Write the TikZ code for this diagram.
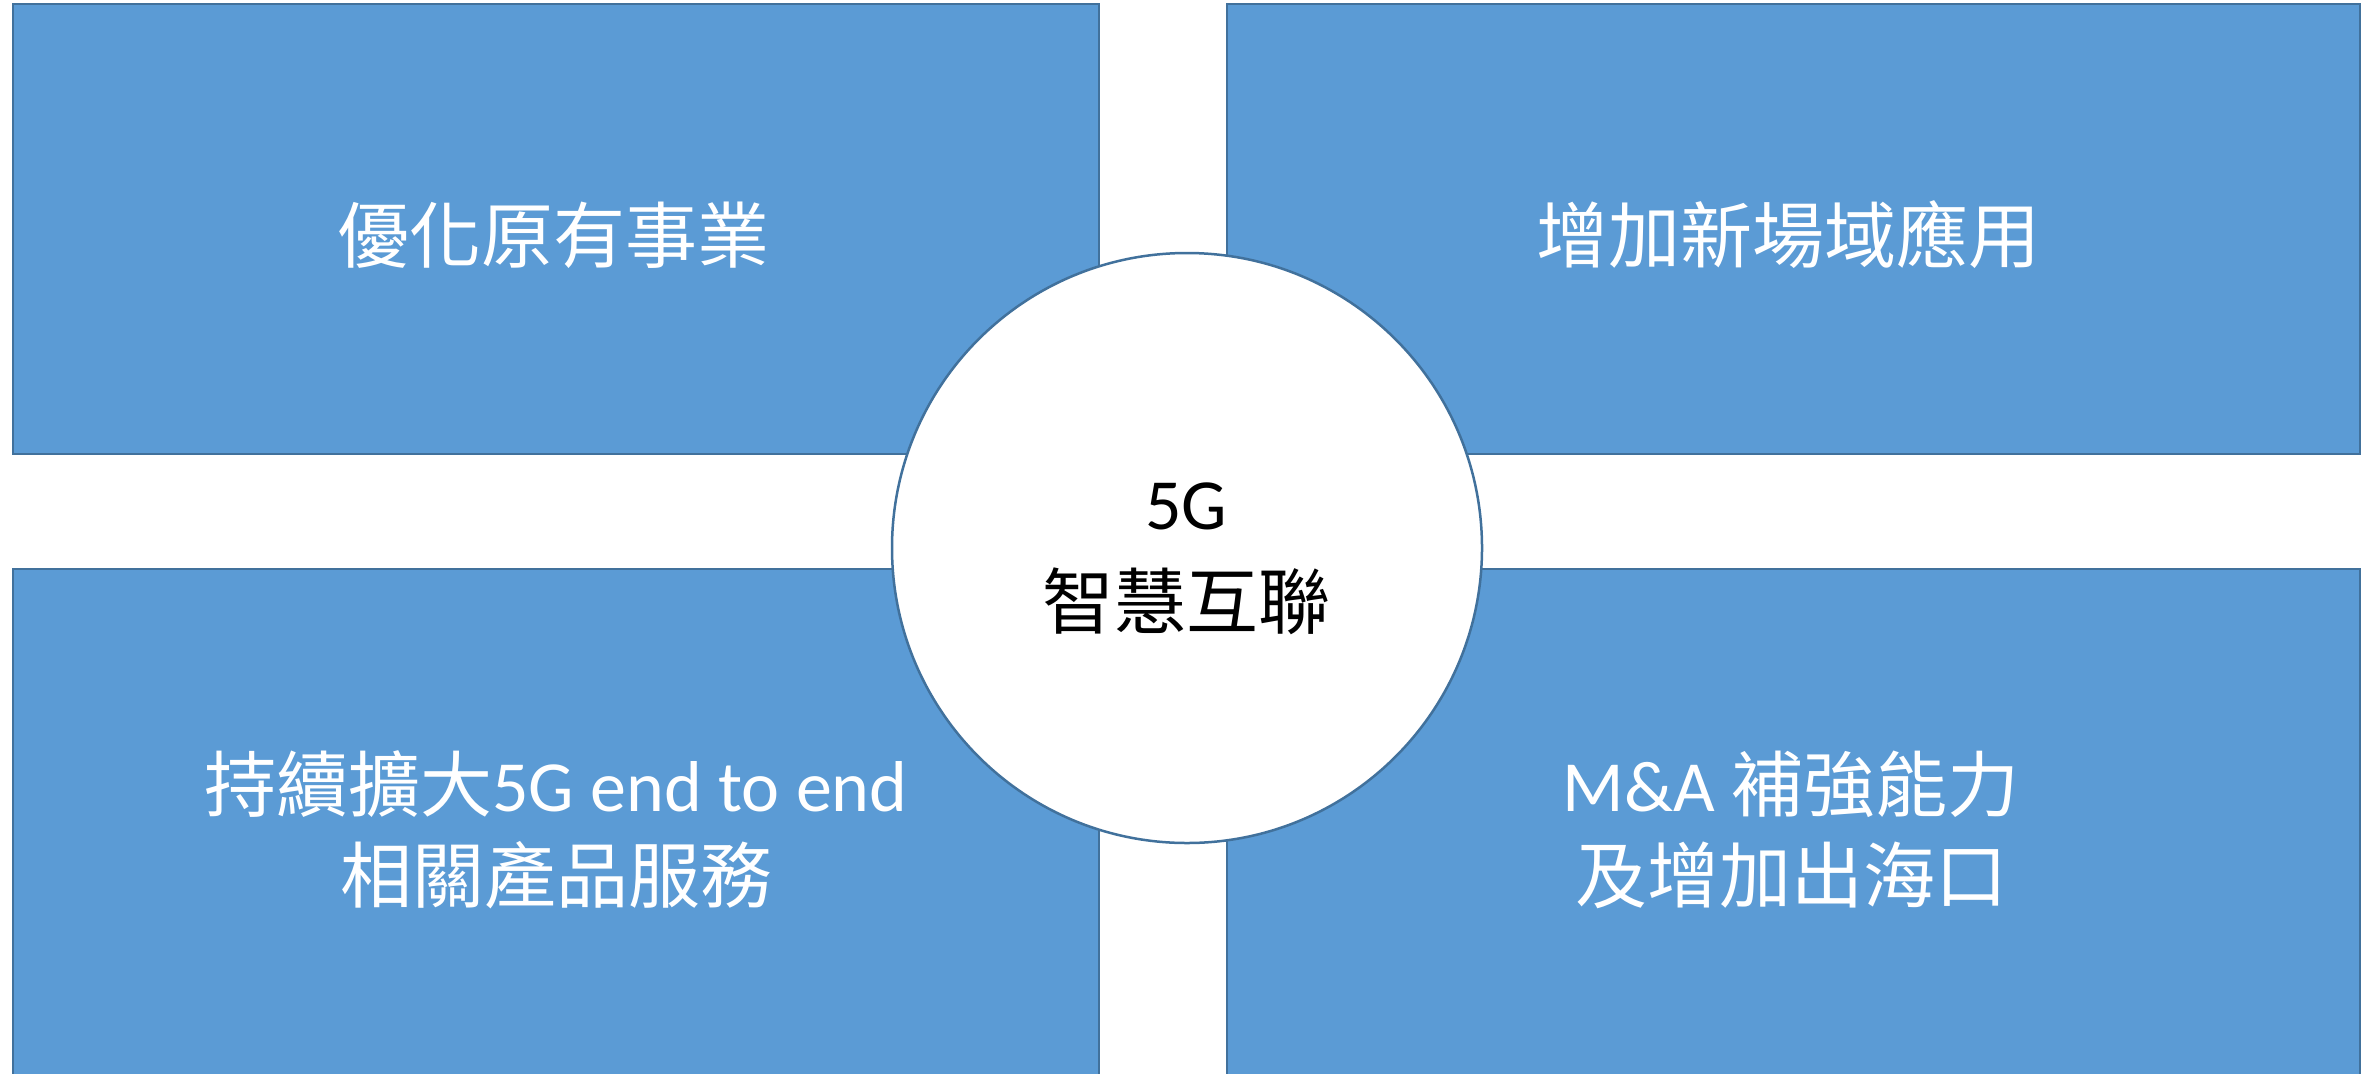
\documentclass[tikz,border=0pt]{standalone}
\usepackage{fontspec}
\setmainfont{Carlito}
\newfontfamily\cjk{Noto Sans CJK TC}
\definecolor{boxfill}{HTML}{5B9BD5}
\definecolor{boxline}{HTML}{41719C}
\begin{document}
\begin{tikzpicture}[x=1bp,y=-1bp,
  quad/.style={draw=boxline, fill=boxfill, line width=2.5bp, inner sep=0pt},
  hub/.style={circle, draw=boxline, fill=white, line width=2.5bp, minimum size=590bp, inner sep=0pt},
  boxtext/.style={text=white, align=center, inner sep=0pt, font=\fontsize{72bp}{91bp}\selectfont},
  hubtext/.style={text=black, align=center, inner sep=0pt, font=\fontsize{72bp}{99bp}\selectfont}]
\useasboundingbox (0,0) rectangle (2374,1073);
\clip (0,0) rectangle (2374,1073);
\node[quad, minimum width=1086bp, minimum height=450bp] (tl) at (556,229) {};
\node[quad, minimum width=1133bp, minimum height=450bp] (tr) at (1793.5,229) {};
\node[quad, minimum width=1086bp, minimum height=521bp] (bl) at (556,829.5) {};
\node[quad, minimum width=1133bp, minimum height=521bp] (br) at (1793.5,829.5) {};
\node[hub] (hub) at (1187,548) {};
\node[boxtext] (ttl) at (553,235) {\cjk 優化原有事業};
\node[boxtext] (ttr) at (1788,235) {\cjk 增加新場域應用};
\node[boxtext] (tbl) at (556,830) {{\cjk 持續擴大}5G end to end\\{\cjk 相關產品服務}};
\node[boxtext] (tbr) at (1791,830) {M\&A {\cjk 補強能力}\\{\cjk 及增加出海口}};
\node[hubtext] (thub) at (1186,559) {5G\\{\cjk 智慧互聯}};
\end{tikzpicture}
\end{document}
